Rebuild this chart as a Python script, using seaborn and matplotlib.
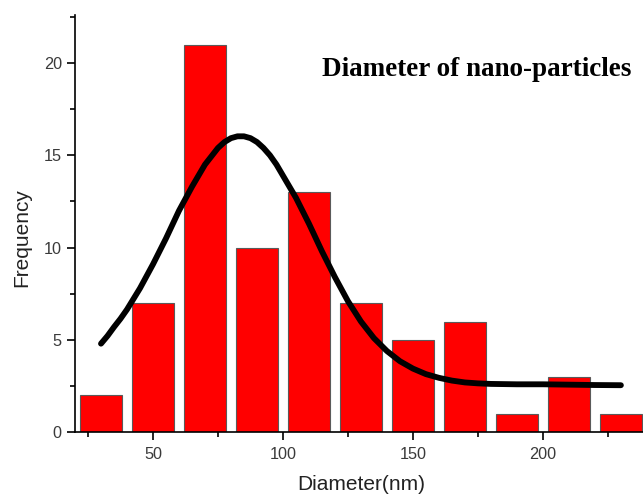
import numpy as np
import pandas as pd
import matplotlib
matplotlib.use("Agg")
import matplotlib.pyplot as plt
from matplotlib.ticker import MultipleLocator, FuncFormatter
import seaborn as sns

# ---- data ----
bin_centers = [30, 50, 70, 90, 110, 130, 150, 170, 190, 210, 230]
counts = [2, 7, 21, 10, 13, 7, 5, 6, 1, 3, 1]
bin_edges = [20, 40, 60, 80, 100, 120, 140, 160, 180, 200, 220, 240]

curve_x = [30, 32.5, 35, 37.5, 40, 45, 50, 55, 60, 65, 70, 72.5, 75, 77.5, 80,
           82.5, 85, 87.5, 90, 92.5, 95, 97.5, 100, 105, 110, 115, 120, 125,
           130, 135, 140, 145, 150, 155, 160, 165, 170, 175, 180, 190, 200,
           210, 220, 230]
curve_y = [4.8, 5.22, 5.7, 6.15, 6.65, 7.8, 9.1, 10.5, 12.0, 13.3, 14.5, 14.95,
           15.4, 15.72, 15.93, 16.03, 16.03, 15.93, 15.72, 15.4, 15.0, 14.5,
           13.9, 12.7, 11.3, 9.8, 8.4, 7.1, 6.0, 5.1, 4.4, 3.85, 3.45, 3.15,
           2.95, 2.8, 2.7, 2.65, 2.62, 2.6, 2.6, 2.58, 2.56, 2.55]

title = "Diameter of nano-particles"
xlabel = "Diameter(nm)"
ylabel = "Frequency"

sns.set_theme(style="ticks")
plt.rcParams["font.family"] = ["Liberation Sans", "DejaVu Sans"]

W, H = 643, 501
fig = plt.figure(figsize=(W / 100, H / 100), dpi=100)
ax_left, ax_bottom_px, ax_top_px = 75, 432.3, 15
ax_h = ax_bottom_px - ax_top_px
ax = fig.add_axes([ax_left / W, (H - ax_bottom_px) / H, 1 - ax_left / W, ax_h / H])

hist_df = pd.DataFrame({"d": bin_centers, "n": counts})
sns.histplot(data=hist_df, x="d", weights="n", bins=bin_edges, shrink=0.82,
             color="#ff0000", alpha=1.0, edgecolor="#5a5a5a", linewidth=0.8, ax=ax)

curve_df = pd.DataFrame({"x": curve_x, "y": curve_y})
sns.lineplot(data=curve_df, x="x", y="y", color="black", linewidth=4.2,
             solid_capstyle="round", solid_joinstyle="round", ax=ax)

ax.set_xlim(20, 238.5)
ax.set_ylim(0, 22.6)

ax.xaxis.set_major_locator(MultipleLocator(50))
ax.xaxis.set_minor_locator(MultipleLocator(25))
ax.yaxis.set_major_locator(MultipleLocator(5))
ax.yaxis.set_minor_locator(MultipleLocator(2.5))

ax.tick_params(axis="x", which="major", length=5.5, width=1.2, direction="out",
               labelsize=11.7, labelcolor="#3a3a3a", color="black", pad=5)
ax.tick_params(axis="y", which="major", length=5.5, width=1.2, direction="out",
               labelsize=11.7, labelcolor="#3a3a3a", color="black", pad=4)
ax.tick_params(axis="both", which="minor", length=3.3, width=1.2, direction="out",
               color="black")
ax.xaxis.set_major_formatter(FuncFormatter(lambda v, p: f"{int(v)}"))
ax.yaxis.set_major_formatter(FuncFormatter(lambda v, p: f"{int(v)}"))

for s in ["top", "right"]:
    ax.spines[s].set_visible(False)
for s in ["left", "bottom"]:
    ax.spines[s].set_linewidth(1.2)
    ax.spines[s].set_color("black")

ax.set_xlabel(xlabel, fontsize=15, color="#222222")
ax.xaxis.label.set_va("center")
ax.xaxis.set_label_coords((361.5 - ax_left) / (W - ax_left), -(485 - ax_bottom_px) / ax_h)

ax.set_ylabel(ylabel, fontsize=15, color="#222222")
ax.yaxis.label.set_va("center")
ax.yaxis.set_label_coords((22 - ax_left) / (W - ax_left), (ax_bottom_px - 238) / ax_h)

fig.text(477 / W, 1 - 70 / H, title, fontsize=19.5, fontweight="bold",
         family=["Liberation Serif", "DejaVu Serif"], ha="center", va="center",
         color="black")

fig.savefig("out.png", dpi=100)
